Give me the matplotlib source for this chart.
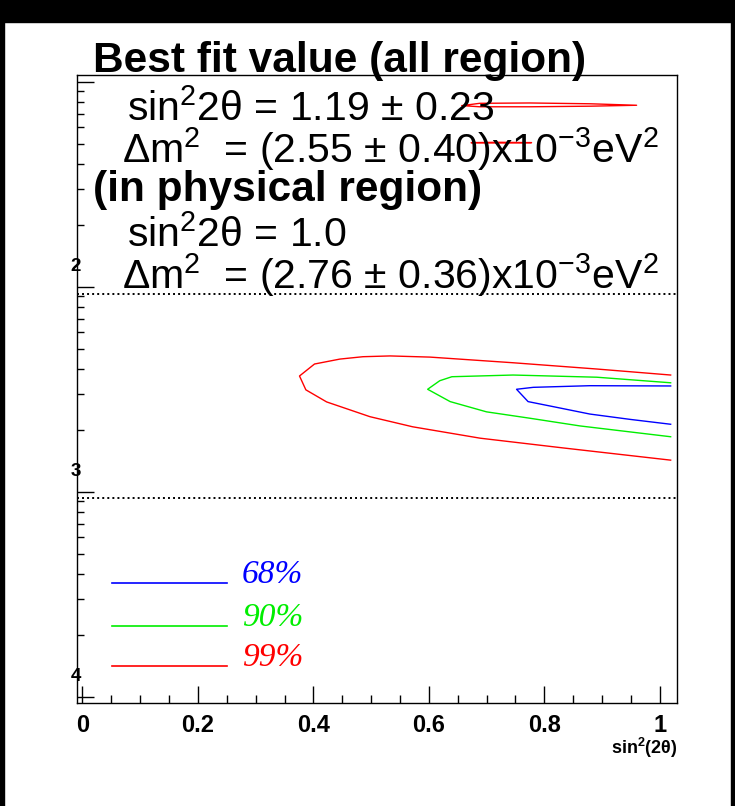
import matplotlib
matplotlib.use("Agg")
import matplotlib.pyplot as plt
from matplotlib.patches import Rectangle
from matplotlib import transforms as mtrans
import numpy as np

plt.rcParams['font.family'] = ['Liberation Sans', 'DejaVu Sans']
plt.rcParams['mathtext.fontset'] = 'custom'
plt.rcParams['mathtext.rm'] = 'Liberation Sans'
plt.rcParams['mathtext.bf'] = 'Liberation Sans:bold'
plt.rcParams['mathtext.default'] = 'regular'

# ---------------- data ----------------
red_x = [1.019, 0.891, 0.746, 0.602, 0.533, 0.486, 0.446, 0.402, 0.376, 0.387,
         0.423, 0.498, 0.572, 0.689, 0.833, 1.019]
red_y = [3.72e-3, 3.98e-3, 4.27e-3, 4.55e-3, 4.61e-3, 4.57e-3, 4.45e-3, 4.21e-3,
         3.68e-3, 3.15e-3, 2.75e-3, 2.33e-3, 2.08e-3, 1.83e-3, 1.64e-3, 1.43e-3]

green_x = [1.019, 0.891, 0.746, 0.640, 0.619, 0.598, 0.637, 0.700, 0.775, 0.862, 1.019]
green_y = [3.41e-3, 3.63e-3, 3.72e-3, 3.65e-3, 3.49e-3, 3.17e-3, 2.76e-3, 2.46e-3,
           2.29e-3, 2.10e-3, 1.86e-3]

blue_x = [1.019, 0.879, 0.781, 0.752, 0.772, 0.815, 0.879, 0.949, 1.019]
blue_y = [3.29e-3, 3.30e-3, 3.24e-3, 3.17e-3, 2.76e-3, 2.61e-3, 2.40e-3, 2.26e-3, 2.14e-3]

# red islands at large dm2 (best fit, all region)
island1_x = [0.658, 0.688, 0.775, 0.879, 0.960, 0.879, 0.775, 0.688, 0.658]
island1_y = [0.0767, 0.0787, 0.0790, 0.0783, 0.0770, 0.0762, 0.0757, 0.0757, 0.0767]
island2_x = [0.674, 0.720, 0.778, 0.720, 0.674]
island2_y = [0.0506, 0.0508, 0.0506, 0.0504, 0.0506]

dotted_y = [9.25e-3, 9.35e-4]

legend_labels = ["68%", "90%", "99%"]
legend_colors = ["#0000ff", "#00ee00", "#ff0000"]

xticks = [0, 0.2, 0.4, 0.6, 0.8, 1.0]
xticklabels = ["0", "0.2", "0.4", "0.6", "0.8", "1"]
ydecades = [1e-1, 1e-2, 1e-3, 1e-4]
ydec_labels = ["", "2", "3", "4"]

text_lines = [
    ("Best fit value (all region)", 93, 72, "bold"),
    (r"sin$^{2}$2θ = 1.19 ± 0.23", 127, 121, "normal"),
    (r"Δm$^{2}$  = (2.55 ± 0.40)x10$^{-3}$eV$^{2}$", 122, 163, "normal"),
    ("(in physical region)", 93, 201, "bold"),
    (r"sin$^{2}$2θ = 1.0", 127, 247, "normal"),
    (r"Δm$^{2}$  = (2.76 ± 0.36)x10$^{-3}$eV$^{2}$", 122, 289, "normal"),
]

# ---------------- figure ----------------
W, H = 735, 806
fig = plt.figure(figsize=(W / 100, H / 100), dpi=100)
fig.patch.set_facecolor("white")

def fx(px):
    return px / W

def fy(py):
    return 1 - py / H

# black canvas border
fig.patches.append(Rectangle((0, fy(22)), 1, 22 / H, transform=fig.transFigure,
                             color="black", zorder=0))
fig.patches.append(Rectangle((0, 0), 4 / W, 1, transform=fig.transFigure,
                             color="black", zorder=0))
fig.patches.append(Rectangle((fx(731), 0), 4 / W, 1, transform=fig.transFigure,
                             color="black", zorder=0))

ax = fig.add_axes([fx(77), fy(703), (677 - 77) / W, (703 - 75) / H])
ax.set_xlim(-0.0095, 1.030)
ax.set_yscale("log")
ax.set_ylim(10 ** -4.0293, 10 ** -0.9659)

for x, y, c in [(red_x, red_y, "#ff0000"), (green_x, green_y, "#00ee00"),
                (blue_x, blue_y, "#0000ff"), (island1_x, island1_y, "#ff0000"),
                (island2_x, island2_y, "#ff0000")]:
    ax.plot(x, y, color=c, lw=1.0, zorder=3, clip_on=True)

for yv in dotted_y:
    ax.axhline(yv, color="black", lw=1.4, ls=(0, (1, 1.6)), zorder=2)

# axes style
for s in ax.spines.values():
    s.set_linewidth(1.0)
    s.set_color("black")
ax.set_xticks(xticks)
ax.set_xticklabels(xticklabels, fontsize=17, fontweight="bold")
ax.set_xticks(np.arange(0.05, 1.01, 0.05), minor=True)
ax.tick_params(axis="x", which="major", direction="in", length=12, width=1, pad=8)
ax.tick_params(axis="x", which="minor", direction="in", length=6, width=1)
ax.set_yticks(ydecades)
ax.set_yticklabels([""] * len(ydecades))
minor_y = [m * d for d in [1e-4, 1e-3, 1e-2] for m in range(2, 10)]
ax.set_yticks(minor_y, minor=True)
ax.set_yticklabels([""] * len(minor_y), minor=True)
ax.tick_params(axis="y", which="major", direction="in", length=12, width=1)
ax.tick_params(axis="y", which="minor", direction="in", length=5, width=1)

# y decade exponent labels (ROOT-style, base clipped)
trans = mtrans.offset_copy(ax.get_yaxis_transform(), fig=fig, x=-1, y=20, units="dots")
for v, lab in zip(ydecades, ydec_labels):
    ax.text(0, v, lab, transform=trans, ha="center", va="center",
            fontsize=13.5, fontweight="bold")

# x axis title
ax.text(1.0, -0.071, r"sin$^{\mathbf{2}}$(2θ)", transform=ax.transAxes, ha="right",
        va="center", fontsize=13, fontweight="bold")

# partially clipped y axis title at the far left
fig.text(fx(8), fy(130), r"Δm$^{2}$ (eV$^{2}$)", rotation=90, ha="right",
         va="center", fontsize=15, fontweight="bold")

# legend (drawn manually)
leg_y = [0.1911, 0.1226, 0.0589]
for lab, col, yy in zip(legend_labels, legend_colors, leg_y):
    ax.plot([0.0583, 0.25], [yy, yy], transform=ax.transAxes, color=col, lw=1.2)
    ax.text(0.275, yy, lab, transform=ax.transAxes, color=col, fontsize=24,
            fontstyle="italic", family=["Liberation Serif", "DejaVu Serif"],
            ha="left", va="baseline")

# annotation text block
for s, px, py, wt in text_lines:
    size = 30.5 if wt == "bold" else 29.5
    fig.text(fx(px), fy(py), s, fontsize=size, fontweight=wt, ha="left",
             va="baseline", zorder=5)

fig.savefig("out.png", dpi=100, facecolor="white")
